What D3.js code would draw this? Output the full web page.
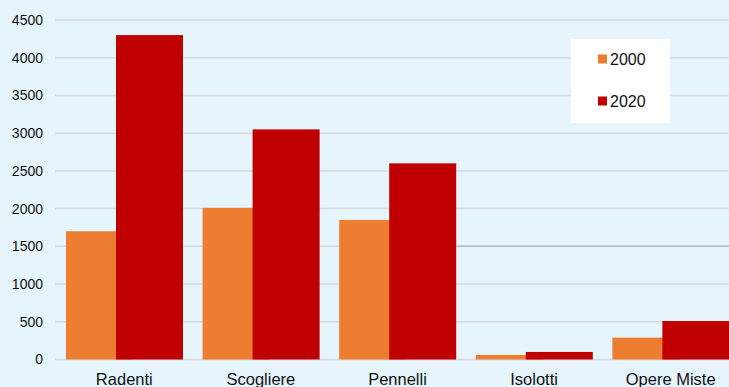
<!DOCTYPE html>
<html>
<head>
<meta charset="utf-8">
<script src="https://cdn.jsdelivr.net/npm/d3@7"></script>
<style>
  html, body { margin: 0; padding: 0; background: #e6f4fc; overflow: hidden; }
  text { font-family: "Liberation Sans", Arial, sans-serif; fill: #111; }
</style>
</head>
<body>
<div id="chart"></div>
<script>
var w = 729;
var h = 387;

var categories = ["Radenti", "Scogliere", "Pennelli", "Isolotti", "Opere Miste"];
var series = ["2000", "2020"];
var values2000 = [1700, 2010, 1850, 60, 290];
var values2020 = [4300, 3050, 2600, 100, 510];
var yTicks = [0, 500, 1000, 1500, 2000, 2500, 3000, 3500, 4000, 4500];
var colors = ["#ed7d31", "#c00000"];

var svg = d3.select("#chart")
	.append("svg")
	.attr("width", w)
	.attr("height", h);

svg.append("rect")
	.attr("width", w)
	.attr("height", h)
	.attr("fill", "#e6f4fc");

var y = d3.scaleLinear()
	.domain([0, 4500])
	.range([359.5, 20]);

var x0 = d3.scaleBand()
	.domain(categories)
	.range([55, 738]);

// bars of the two series overlap a bit, like the original
var barW = 67;
var x1 = d3.scalePoint()
	.domain(series)
	.range([11, 61]);

// gridlines
svg.append("g")
	.selectAll("line")
	.data(yTicks)
	.enter()
	.append("line")
	.attr("x1", 55)
	.attr("x2", w)
	.attr("y1", (d) => y(d))
	.attr("y2", (d) => y(d))
	.attr("stroke", "#d6d9dc")
	.attr("stroke-width", 1.5);

// the 1500 line is darker right of the Pennelli bars in the original
svg.append("line")
	.attr("x1", x0("Pennelli") + x1("2020") + barW)
	.attr("x2", w)
	.attr("y1", y(1500))
	.attr("y2", y(1500))
	.attr("stroke", "#b9bcbf")
	.attr("stroke-width", 1.5);

// y tick labels
svg.append("g")
	.selectAll("text")
	.data(yTicks)
	.enter()
	.append("text")
	.attr("x", 43)
	.attr("y", (d) => y(d))
	.attr("dy", "0.35em")
	.attr("text-anchor", "end")
	.attr("font-size", "14px")
	.text((d) => d);

var rows = [];
categories.forEach(function (c, i) {
	rows.push({ cat: c, s: "2000", v: values2000[i] });
	rows.push({ cat: c, s: "2020", v: values2020[i] });
});

svg.append("g")
	.selectAll("rect")
	.data(rows)
	.enter()
	.append("rect")
	.attr("x", (d) => x0(d.cat) + x1(d.s))
	.attr("y", (d) => y(d.v))
	.attr("width", barW)
	.attr("height", (d) => y(0) - y(d.v))
	.attr("fill", (d) => colors[series.indexOf(d.s)]);

// category labels
svg.append("g")
	.selectAll("text")
	.data(categories)
	.enter()
	.append("text")
	.attr("x", (d) => x0(d) + x0.bandwidth() / 2 + 1)
	.attr("y", 385)
	.attr("text-anchor", "middle")
	.attr("font-size", "16.5px")
	.text((d) => d);

// legend
var legend = svg.append("g");
legend.append("rect")
	.attr("x", 571)
	.attr("y", 39)
	.attr("width", 99)
	.attr("height", 84)
	.attr("fill", "#ffffff");

var items = legend.selectAll("g")
	.data(series)
	.enter()
	.append("g")
	.attr("transform", (d, i) => "translate(598," + (59 + i * 42) + ")");

items.append("rect")
	.attr("x", 0)
	.attr("y", -4.5)
	.attr("width", 9)
	.attr("height", 9)
	.attr("fill", (d, i) => colors[i]);

items.append("text")
	.attr("x", 12)
	.attr("y", 0)
	.attr("dy", "0.36em")
	.attr("font-size", "16px")
	.text((d) => d);
</script>
</body>
</html>
